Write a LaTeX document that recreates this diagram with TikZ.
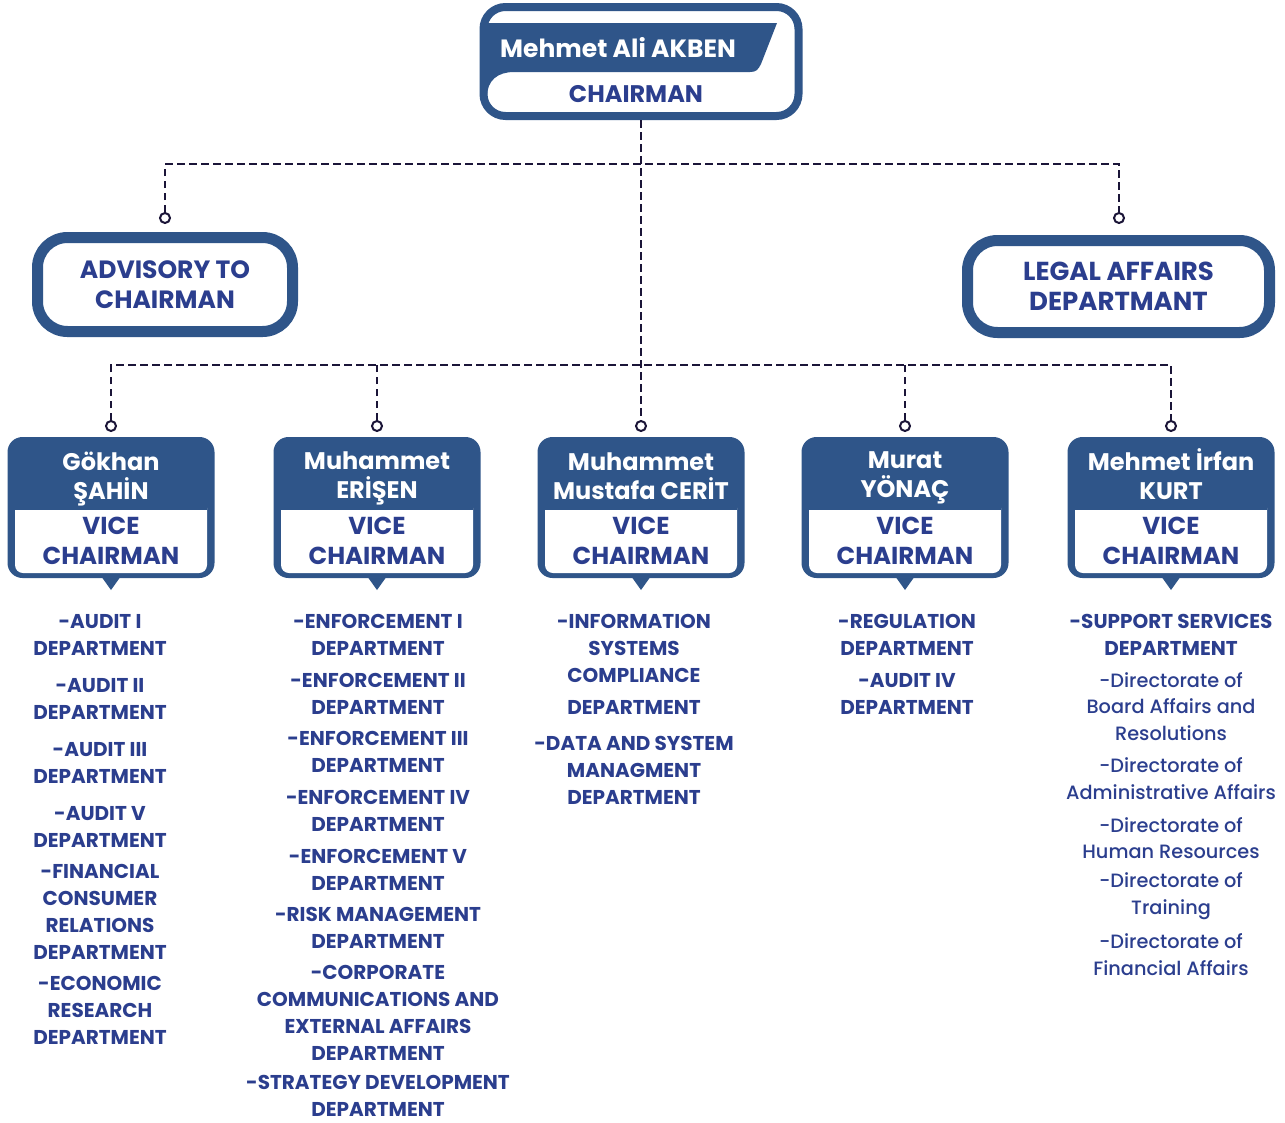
\documentclass[tikz,border=0pt]{standalone}
\usepackage{fontspec}
\setmainfont{Poppins}
\newfontfamily\sbf{Poppins SemiBold}
\newfontfamily\mdf{Poppins Medium}
\definecolor{boxblue}{RGB}{47,85,137}
\definecolor{txtblue}{RGB}{43,62,142}
\definecolor{lineink}{RGB}{27,21,56}
\newcommand\vpbox[4]{%
  \node[vpb] (#1) at (#2,507.5) {};
  \fill[white, rounded corners=8pt] ({#2-96},500) rectangle ({#2+96},573);
  \fill[boxblue] ({#2-96},498) rectangle ({#2+96},510);
  \fill[boxblue] ({#2-10},576) -- ({#2+10},576) -- (#2,590) -- cycle;
  \node[vpname] (#1name) at (#2,#4) {#3};
  \node[vprole] (#1role) at (#2,541) {VICE\\CHAIRMAN};
  \node[ring] (r#1) at (#2,426) {};
}
\begin{document}
\begin{tikzpicture}[x=1pt,y=-1pt,
  conn/.style={draw=lineink, line width=2.2pt, dash pattern=on 7.5pt off 4.5pt},
  ring/.style={circle, draw=lineink, line width=2pt, minimum size=10pt, inner sep=0pt, fill=white},
  vpb/.style={rectangle, fill=boxblue, rounded corners=15pt, minimum width=207pt, minimum height=141pt, inner sep=0pt},
  vpname/.style={align=center, text=white, inner sep=0pt, font=\bfseries\fontsize{24}{29}\selectfont},
  vprole/.style={align=center, text=txtblue, inner sep=0pt, font=\bfseries\fontsize{24.5}{30}\selectfont},
  dept/.style={align=center, text=txtblue, inner sep=0pt, font=\bfseries\fontsize{20}{27}\selectfont},
  dir/.style={align=center, text=txtblue, inner sep=0pt, font=\mdf\fontsize{19.3}{26.5}\selectfont},
  unit/.style={draw=boxblue, fill=white, line width=11pt, align=center, text=txtblue, inner sep=0pt, font=\bfseries\fontsize{25}{30}\selectfont}
]
\useasboundingbox (0,0) rectangle (1285,1122);
\fill[white] (0,0) rectangle (1285,1122);

% chairman
\node[draw=boxblue, fill=white, line width=8pt, rounded corners=22pt, minimum width=315pt, minimum height=109pt, inner sep=0pt] (chair) at (641,61.5) {};
\fill[boxblue] (486,23) -- (777,23) -- (761,64) .. controls (758,70) and (756,72) .. (750,72) -- (514,72) .. controls (498,72) and (487,80) .. (487,97) -- (486,97) -- cycle;
\node[text=white, inner sep=0pt, font=\bfseries\fontsize{25}{28}\selectfont] (chairname) at (618,48) {Mehmet Ali AKBEN};
\node[text=txtblue, inner sep=0pt, font=\bfseries\fontsize{24}{28}\selectfont] (chairrole) at (636,94) {CHAIRMAN};

% advisory / legal
\node[unit, rounded corners=30pt, minimum width=255pt, minimum height=94pt] (adv) at (165,284.5) {ADVISORY TO\\CHAIRMAN};
\node[unit, rounded corners=30pt, minimum width=302pt, minimum height=92pt, font=\bfseries\fontsize{26}{30}\selectfont] (legal) at (1118.5,286.5) {LEGAL AFFAIRS\\DEPARTMANT};
\node[ring] (radv) at (165,218) {};
\node[ring] (rlegal) at (1119,218) {};

% vice chairmen
\vpbox{va}{111}{Gökhan\\ŞAHİN}{479}
\vpbox{vb}{377}{Muhammet\\ERİŞEN}{478}
\vpbox{vc}{641}{Muhammet\\Mustafa CERİT}{476.5}
\vpbox{vd}{905}{Murat\\YÖNAÇ}{478}
\vpbox{ve}{1171}{Mehmet İrfan\\KURT}{474.5}

% connectors
\coordinate (j1) at (641,164);
\coordinate (j2) at (641,365);
\draw[conn] (chair.south) -- (rvc.north);
\draw[conn] (radv.north) |- (j1) -| (rlegal.north);
\draw[conn] (rva.north) |- (j2) -| (rve.north);
\draw[conn] (rvb.north) -- (rvb.north |- j2);
\draw[conn] (rvd.north) -- (rvd.north |- j2);

% column 1
\node[dept] (a1) at (100,634.5) {-AUDIT I\\DEPARTMENT};
\node[dept] (a2) at (100,698.5) {-AUDIT II\\DEPARTMENT};
\node[dept] (a3) at (100,762.5) {-AUDIT III\\DEPARTMENT};
\node[dept] (a4) at (100,826.5) {-AUDIT V\\DEPARTMENT};
\node[dept] (a5) at (100,912) {-FINANCIAL\\CONSUMER\\RELATIONS\\DEPARTMENT};
\node[dept] (a6) at (100,1010.5) {-ECONOMIC\\RESEARCH\\DEPARTMENT};

% column 2
\node[dept] (b1) at (378,634.5) {-ENFORCEMENT I\\DEPARTMENT};
\node[dept] (b2) at (378,693.5) {-ENFORCEMENT II\\DEPARTMENT};
\node[dept] (b3) at (378,752) {-ENFORCEMENT III\\DEPARTMENT};
\node[dept] (b4) at (378,810.5) {-ENFORCEMENT IV\\DEPARTMENT};
\node[dept] (b5) at (378,869.5) {-ENFORCEMENT V\\DEPARTMENT};
\node[dept] (b6) at (378,928) {-RISK MANAGEMENT\\DEPARTMENT};
\node[dept] (b7) at (378,1012.5) {-CORPORATE\\COMMUNICATIONS AND\\EXTERNAL AFFAIRS\\DEPARTMENT};
\node[dept] (b8) at (378,1095.5) {-STRATEGY DEVELOPMENT\\DEPARTMENT};

% column 3
\node[dept] (c1) at (634,664) {-INFORMATION\\SYSTEMS\\COMPLIANCE\\[5pt]DEPARTMENT};
\node[dept] (c2) at (634,770.5) {-DATA AND SYSTEM\\MANAGMENT\\DEPARTMENT};

% column 4
\node[dept] (d1) at (907,634.5) {-REGULATION\\DEPARTMENT};
\node[dept] (d2) at (907,693.5) {-AUDIT IV\\DEPARTMENT};

% column 5
\node[dept] (e1) at (1171,634.5) {-SUPPORT SERVICES\\DEPARTMENT};
\node[dir] (e2) at (1171,706.5) {-Directorate of\\Board Affairs and\\Resolutions};
\node[dir] (e3) at (1171,778.5) {-Directorate of\\Administrative Affairs};
\node[dir] (e4) at (1171,838) {-Directorate of\\Human Resources};
\node[dir] (e5) at (1171,896) {-Directorate of\\Training};
\node[dir] (e6) at (1171,954.5) {-Directorate of\\Financial Affairs};
\end{tikzpicture}
\end{document}
